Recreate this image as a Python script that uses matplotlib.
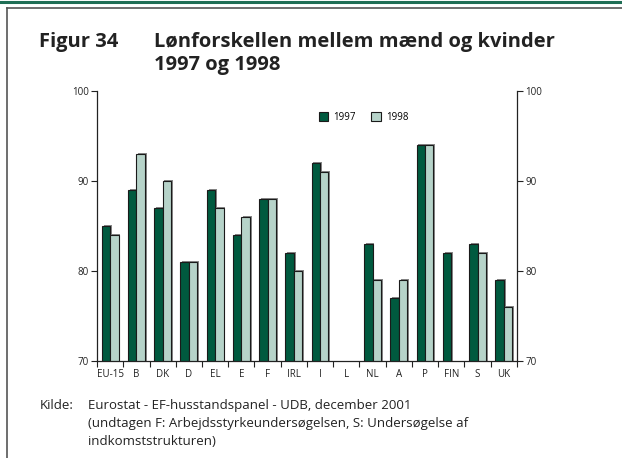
import numpy as np
import matplotlib
matplotlib.use('Agg')
import matplotlib.pyplot as plt
import matplotlib.patheffects as pe
from matplotlib.lines import Line2D

# --------------------------------------------------------------------------------------------
# DATA
countries = ['EU-15', 'B', 'DK', 'D', 'EL', 'E', 'F', 'IRL', 'I', 'L', 'NL', 'A', 'P', 'FIN', 'S', 'UK']
gap1997 = [85, 89, 87, 81, 89, 84, 88, 82, 92, np.nan, 83, 77, 94, 82, 83, 79]
gap1998 = [84, 93, 90, 81, 87, 86, 88, 80, 91, np.nan, 79, 79, 94, np.nan, 82, 76]
yTicks = [70, 80, 90, 100]

dark = '#005a3f'
light = '#b6d3c9'
ink = '#222222'

plt.rcParams['font.family'] = ['Open Sans', 'DejaVu Sans']

fig = plt.figure(figsize=(6.22, 4.58), dpi=100)
ax = fig.add_axes([0.156, 0.212, 0.675, 0.589])

x = np.arange(len(countries))
w = 0.32
shadow = [pe.SimplePatchShadow(offset=(1.3, 0.6), shadow_rgbFace='#888888', alpha=1), pe.Normal()]
b1 = ax.bar(x - w / 2, gap1997, w, color=dark, edgecolor='#1a1a1a', linewidth=0.8, label='1997')
b2 = ax.bar(x + w / 2, gap1998, w, color=light, edgecolor='#1a1a1a', linewidth=0.8, label='1998')
for bar in list(b1) + list(b2):
    bar.set_path_effects(shadow)

ax.set_xlim(-0.5, len(countries) - 0.5)
ax.set_ylim(70, 100)
ax.set_yticks(yTicks)
ax.tick_params(axis='y', which='both', labelsize=7, length=4, width=0.8, direction='out',
               left=True, right=True, labelleft=True, labelright=True, colors=ink, pad=2)
ax.set_xticks(x)
ax.set_xticklabels(countries)
ax.set_xticks(np.arange(-0.5, len(countries), 1), minor=True)
ax.tick_params(axis='x', which='major', length=0, labelsize=7, colors=ink, pad=6)
ax.tick_params(axis='x', which='minor', length=4, width=0.8, direction='out', color=ink)
ax.spines['top'].set_visible(False)
for s in ['left', 'right', 'bottom']:
    ax.spines[s].set_linewidth(0.9)
    ax.spines[s].set_color(ink)

leg = ax.legend(loc='upper center', bbox_to_anchor=(0.635, 0.955), ncol=2, frameon=False, fontsize=7,
                handlelength=1.0, handleheight=1.0, columnspacing=1.6, handletextpad=0.5)
for h in leg.legend_handles:
    h.set_path_effects([])

# title
fig.text(0.063, 0.897, 'Figur 34', fontsize=14.5, fontweight='bold', color=ink)
fig.text(0.248, 0.897, 'Lønforskellen mellem mænd og kvinder', fontsize=14.5, fontweight='bold', color=ink)
fig.text(0.248, 0.847, '1997 og 1998', fontsize=14.5, fontweight='bold', color=ink)

# source
fig.text(0.064, 0.108, 'Kilde:', fontsize=9.5, color=ink)
fig.text(0.141, 0.108, 'Eurostat - EF-husstandspanel - UDB, december 2001', fontsize=9.5, color=ink)
fig.text(0.141, 0.068, '(undtagen F: Arbejdsstyrkeundersøgelsen, S: Undersøgelse af', fontsize=9.5, color=ink)
fig.text(0.141, 0.028, 'indkomststrukturen)', fontsize=9.5, color=ink)

# frame
fig.add_artist(Line2D([0, 1], [1 - 1.5 / 458, 1 - 1.5 / 458], color='#1f6e55', linewidth=2.2))
fig.add_artist(Line2D([7 / 622, 1], [1 - 7.5 / 458, 1 - 7.5 / 458], color='#555555', linewidth=1.2))
fig.add_artist(Line2D([7 / 622, 7 / 622], [0, 1 - 7.5 / 458], color='#555555', linewidth=1.2))

fig.savefig('out.png', dpi=100)
